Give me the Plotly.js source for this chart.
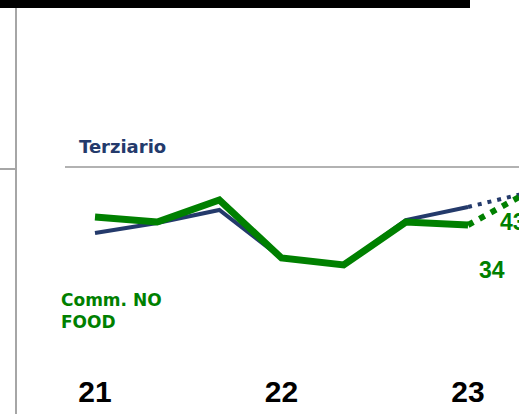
<!DOCTYPE html>
<html>
<head>
<meta charset="utf-8">
<script src="https://cdn.plot.ly/plotly-3.0.1.min.js"></script>
<style>html,body{margin:0;padding:0;background:#fff;}#chart{width:519px;height:414px;}</style>
</head>
<body>
<div id="chart"></div>
<script>
// Periods (index positions) and year tick labels
const periods = [0, 1, 2, 3, 4, 5, 6];
const forecastPeriods = [6, 7];
const tickPositions = [0, 3, 6];
const tickLabels = ['21', '22', '23'];

// Terziario (navy) – observed and forecast
const terziario = [33.5, 38.5, 45, 21, 17.5, 40, 46.5];
const terziarioForecast = [46.5, 54];

// Comm. NO FOOD (green) – observed and forecast
const noFood = [41.5, 39, 50, 21, 17.5, 39, 37.5];
const noFoodForecast = [37.5, 54.5];

// Value labels
const labelTexts = ['43', '34'];
const labelX = [6.73, 6.38];
const labelY = [39, 15];

const navy = '#243a6b';
const green = '#008000';

const traces = [
  {x: periods, y: terziario, mode: 'lines', line: {color: navy, width: 4}, hoverinfo: 'skip'},
  {x: forecastPeriods, y: terziarioForecast, mode: 'lines', line: {color: navy, width: 4, dash: '4px,6px'}, hoverinfo: 'skip'},
  {x: periods, y: noFood, mode: 'lines', line: {color: green, width: 7}, hoverinfo: 'skip'},
  {x: forecastPeriods, y: noFoodForecast, mode: 'lines', line: {color: green, width: 6, dash: '6px,7px'}, hoverinfo: 'skip'}
];

const annotations = [
  {xref: 'paper', yref: 'paper', x: 77/519, y: 1 - 146/370, xanchor: 'left', yanchor: 'middle', showarrow: false,
   text: '<b>Terziario</b>', font: {family: 'DejaVu Sans', size: 18, color: navy}},
  {xref: 'paper', yref: 'paper', x: 59/519, y: 1 - 311/370, xanchor: 'left', yanchor: 'middle', showarrow: false, align: 'left',
   text: '<b>Comm. NO<br>FOOD</b>', font: {family: 'DejaVu Sans', size: 17, color: green}},
  {x: labelX[0], y: labelY[0], xanchor: 'center', yanchor: 'middle', showarrow: false,
   text: '<b>' + labelTexts[0] + '</b>', font: {family: 'Liberation Sans', size: 23, color: green}},
  {x: labelX[1], y: labelY[1], xanchor: 'center', yanchor: 'middle', showarrow: false,
   text: '<b>' + labelTexts[1] + '</b>', font: {family: 'Liberation Sans', size: 23, color: green}}
];

const shapes = [
  {type: 'rect', xref: 'paper', yref: 'paper', x0: 0, x1: 470/519, y0: 1, y1: 1 - 8/370, fillcolor: '#000', line: {width: 0}},
  {type: 'line', xref: 'paper', yref: 'paper', x0: 16/519, x1: 16/519, y0: 1 - 8/370, y1: -44/370, line: {color: '#a6a6a6', width: 2}},
  {type: 'line', xref: 'paper', yref: 'paper', x0: 0, x1: 15/519, y0: 1 - 169/370, y1: 1 - 169/370, line: {color: '#a6a6a6', width: 2}},
  {type: 'line', xref: 'paper', yref: 'paper', x0: 65/519, x1: 1, y0: 1 - 167/370, y1: 1 - 167/370, line: {color: '#999999', width: 1.5}}
];

const layout = {
  width: 519, height: 414,
  margin: {l: 0, r: 0, t: 0, b: 44, pad: 0},
  paper_bgcolor: '#fff', plot_bgcolor: '#fff',
  showlegend: false,
  xaxis: {range: [-95/62.17, 424/62.17], tickvals: tickPositions, ticktext: tickLabels,
          showgrid: false, zeroline: false, showline: false, ticks: '',
          tickfont: {family: 'Liberation Sans', size: 30, color: '#000', weight: 'bold'}, ticklabelstandoff: 1},
  yaxis: {range: [-35, 150], showgrid: false, zeroline: false, showline: false, showticklabels: false, ticks: ''},
  shapes: shapes,
  annotations: annotations
};

Plotly.newPlot('chart', traces, layout, {displayModeBar: false, staticPlot: true});
</script>
</body>
</html>
